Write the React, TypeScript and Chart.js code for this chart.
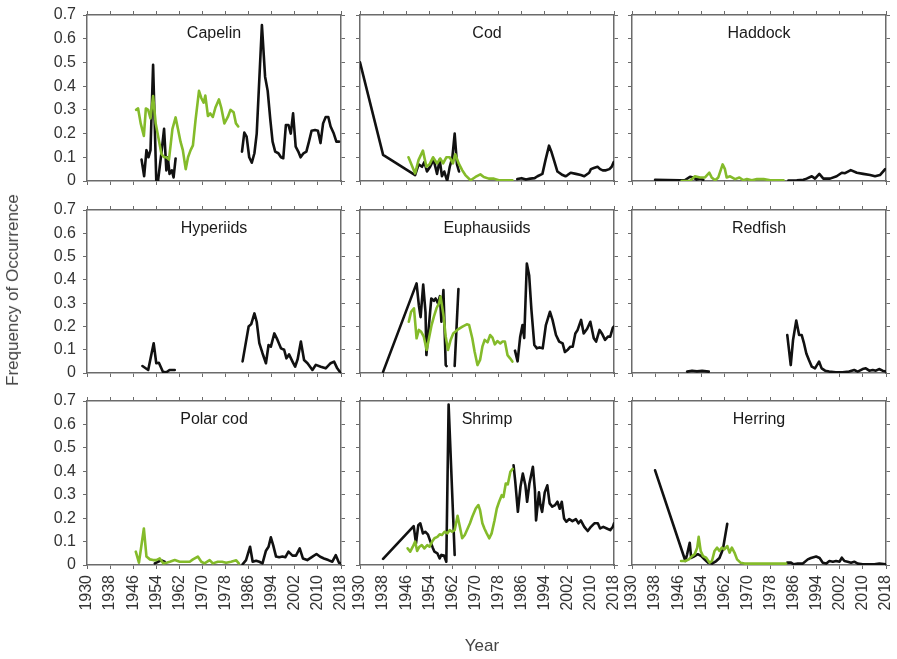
import React, { useEffect, useRef } from 'react';
import { Chart, registerables } from 'chart.js';
Chart.register(...registerables);

type P = [number, number | null];

const xTicks = [1930, 1938, 1946, 1954, 1962, 1970, 1978, 1986, 1994, 2002, 2010, 2018];
const yTicks = [0, 0.1, 0.2, 0.3, 0.4, 0.5, 0.6, 0.7];
const yTickLabels = ['0', '0.1', '0.2', '0.3', '0.4', '0.5', '0.6', '0.7'];
const panelTitles = ['Capelin', 'Cod', 'Haddock', 'Hyperiids', 'Euphausiids', 'Redfish', 'Polar cod', 'Shrimp', 'Herring'];

const capelinBlack: P[] = [[1948.9,.09],[1949.8,.02],[1950.6,.13],[1951.3,.10],[1952,.13],[1952.9,.49],[1954,0],[1954.6,0],[1955.8,.12],[1956.7,.22],[1957.5,.045],[1958,.10],[1958.6,.03],[1959.4,.045],[1960,.015],[1960.7,.095],[1970,null],
  [1983.7,.124],[1984.5,.204],[1985.3,.187],[1986.2,.10],[1987.1,.077],[1988,.117],[1988.8,.2],[1990.6,.658],[1991.7,.44],[1992.6,.38],[1993.5,.26],[1994.3,.166],[1995.2,.124],[1996.3,.117],[1997.2,.10],[1998,.096],[1998.9,.236],[1999.8,.236],[2000.6,.20],[2001.4,.285],[2002.3,.145],[2003.2,.124],[2004,.10],[2005,.117],[2006,.124],[2006.9,.166],[2007.8,.212],[2009,.215],[2010,.212],[2010.9,.16],[2011.8,.243],[2012.7,.27],[2013.6,.27],[2014.4,.23],[2015.5,.20],[2016.4,.166],[2017.3,.166]];
const capelinGreen: P[] = [[1947,.30],[1947.7,.306],[1948.6,.243],[1949.7,.19],[1950.4,.306],[1951.2,.30],[1952,.264],[1952.9,.358],[1953.8,.243],[1955,.166],[1955.8,.114],[1956.7,.10],[1957.5,.10],[1958.4,.09],[1959.6,.22],[1960.7,.268],[1961.5,.22],[1962.4,.166],[1963.2,.13],[1964.2,.05],[1965,.10],[1965.9,.13],[1966.7,.15],[1967.6,.257],[1968.8,.38],[1969.6,.35],[1970.4,.33],[1971,.36],[1971.9,.274],[1972.7,.285],[1973.6,.27],[1974.5,.31],[1975.7,.344],[1976.5,.31],[1977.6,.243],[1978.8,.27],[1979.7,.30],[1980.8,.29],[1981.6,.243],[1982.4,.23]];

const codBlack: P[] = [[1930,.50],[1938,.11],[1949.1,.025],[1950.3,.07],[1951.5,.06],[1952.3,.08],[1953.2,.04],[1954.3,.06],[1955.5,.09],[1956.7,.03],[1957.6,.09],[1958.4,.02],[1959.2,.04],[1960.2,0],[1961.1,.06],[1962,.10],[1962.8,.20],[1963.6,.07],[1964.3,.04],[1975,null],
  [1984.5,.008],[1986,.012],[1987.5,.006],[1989,.01],[1990.5,.012],[1991.5,.02],[1993.2,.03],[1994.3,.09],[1995.5,.149],[1996.4,.12],[1997.2,.088],[1998.4,.04],[2000.2,.025],[2001.2,.02],[2001.9,.025],[2003,.035],[2004.8,.03],[2006.5,.025],[2007.7,.02],[2009.4,.035],[2010,.05],[2011,.055],[2012.3,.06],[2013.2,.05],[2014.1,.045],[2015.2,.045],[2016.4,.05],[2017.2,.06],[2017.9,.08]];
const codGreen: P[] = [[1946.8,.10],[1949.1,.032],[1950.3,.089],[1951.8,.128],[1953,.06],[1954.1,.07],[1955.3,.10],[1956.7,.074],[1957.8,.095],[1958.8,.074],[1959.9,.10],[1961.1,.10],[1962.2,.074],[1963,.113],[1964.2,.074],[1965.4,.046],[1966.5,.025],[1968.3,.003],[1970,.017],[1971.7,.028],[1972.9,.017],[1974.6,.01],[1976.4,.01],[1978.1,.003],[1982.8,.003]];

const haddockBlack: P[] = [[1938,.005],[1946.6,.003],[1948.4,.004],[1950.1,.018],[1951.2,.015],[1952.4,.006],[1953.6,.01],[1954.7,.005],[1970,null],
  [1984.2,.002],[1987.1,.003],[1989.4,.005],[1990.5,.01],[1992.3,.02],[1993.4,.01],[1994.9,.03],[1996.3,.01],[1998.6,.01],[2000.9,.02],[2002.7,.035],[2003.8,.033],[2005.8,.046],[2007.9,.035],[2010.1,.03],[2012.5,.025],[2014.2,.02],[2015.9,.025],[2017.7,.05]];
const haddockGreen: P[] = [[1947.2,0],[1950.1,0],[1951.8,.02],[1953.6,.015],[1955.3,.015],[1956.8,.035],[1957.6,.015],[1958.8,.003],[1959.9,.015],[1961.4,.07],[1962.2,.05],[1962.8,.015],[1964,.02],[1965.7,.008],[1967.2,.015],[1968.6,.003],[1969.8,.008],[1971.5,.003],[1973.3,.008],[1975.6,.008],[1977.9,.003],[1980.2,.003],[1982.5,.003]];

const hyperiidsBlack: P[] = [[1949.2,.03],[1951.2,.013],[1953.1,.128],[1954,.042],[1954.9,.044],[1956.3,.005],[1957.5,.003],[1958.6,.013],[1960.4,.013],[1970,null],
  [1983.9,.05],[1986,.20],[1986.9,.21],[1988,.256],[1988.8,.22],[1989.7,.128],[1990.8,.085],[1992,.042],[1992.9,.12],[1993.7,.113],[1994.9,.17],[1996,.142],[1997.2,.106],[1998.3,.10],[1999.1,.063],[2000,.08],[2001.2,.049],[2002.1,.027],[2003,.06],[2004.1,.135],[2005.2,.056],[2006.4,.042],[2008.1,.013],[2009.3,.035],[2011,.027],[2012.7,.02],[2014.4,.042],[2015.6,.049],[2016.7,.02],[2017.9,0]];
const hyperiidsGreen: P[] = [];

const euphBlack: P[] = [[1938,.005],[1949.6,.385],[1950.4,.29],[1951,.24],[1951.9,.38],[1952.7,.26],[1953,.077],[1954.7,.32],[1955.6,.31],[1956.2,.32],[1957,.30],[1957.7,.33],[1958.2,.22],[1958.9,.356],[1959.7,.034],[1960,.03],[1961,null],[1962.8,.03],[1964.1,.36],[1970,null],
  [1983.7,.096],[1984.6,.05],[1985.5,.156],[1986.3,.206],[1986.9,.15],[1987.8,.47],[1988.6,.42],[1989.4,.27],[1990.4,.12],[1991.3,.106],[1992.2,.11],[1993.3,.106],[1994.4,.206],[1995.8,.263],[1996.7,.228],[1997.9,.163],[1999,.135],[2000.2,.127],[2001,.09],[2002,.10],[2002.9,.113],[2003.7,.113],[2004.6,.17],[2005.4,.185],[2006.6,.228],[2007.5,.17],[2008.7,.19],[2009.8,.22],[2011,.149],[2011.8,.135],[2013,.185],[2013.8,.17],[2014.9,.142],[2015.9,.156],[2016.7,.156],[2017.6,.195],[2018,.2]];
const euphGreen: P[] = [[1946.9,.22],[1947.7,.263],[1948.7,.278],[1949.6,.149],[1950.4,.185],[1951.2,.177],[1952.1,.156],[1953.1,.099],[1953.9,.149],[1954.8,.206],[1955.6,.242],[1956.5,.278],[1957.4,.30],[1957.9,.328],[1958.9,.25],[1959.7,.156],[1960.5,.099],[1961.4,.142],[1962.3,.17],[1963.7,.185],[1965.5,.199],[1967,.209],[1967.8,.206],[1968.9,.149],[1969.7,.092],[1970.7,.034],[1971.6,.056],[1972.4,.113],[1973.2,.142],[1974.2,.132],[1975.1,.163],[1975.9,.152],[1976.7,.123],[1977.6,.137],[1978.6,.127],[1979.4,.135],[1980.2,.135],[1981.1,.077],[1982,.063],[1982.8,.049]];

const redfishBlack: P[] = [[1949.1,.006],[1950.8,.01],[1952.5,.007],[1954.3,.009],[1956.6,.006],[1970,null],
  [1983.8,.163],[1985,.034],[1985.8,.142],[1986.9,.225],[1987.9,.163],[1988.8,.163],[1989.6,.127],[1990.4,.084],[1991.3,.056],[1992.3,.027],[1993.4,.02],[1994.8,.049],[1995.7,.02],[1996.9,.01],[1998.3,.006],[2000.6,.003],[2002.9,.003],[2005.2,.006],[2007,.013],[2008.2,.006],[2009.9,.017],[2011,.02],[2012.2,.01],[2013.4,.013],[2014.5,.01],[2015.6,.017],[2016.8,.01],[2018,.006]];
const redfishGreen: P[] = [];

const polarBlack: P[] = [[1953.5,.007],[1954.6,.014],[1955.8,.02],[1956.9,.014],[1970,null],
  [1983.9,.003],[1985.1,.021],[1986.5,.078],[1987.4,.014],[1988.6,.018],[1989.7,.014],[1990.8,.007],[1992,.061],[1992.9,.078],[1993.7,.118],[1994.5,.085],[1995.5,.036],[1996.6,.033],[1997.7,.036],[1998.7,.033],[1999.8,.057],[2001.2,.04],[2002.4,.04],[2003.7,.071],[2004.8,.028],[2006.3,.021],[2008,.035],[2009.5,.047],[2010.8,.035],[2012.1,.028],[2013.6,.021],[2015,.014],[2016.2,.042],[2017.3,.01],[2018,.007]];
const polarGreen: P[] = [[1946.9,.057],[1948,.01],[1949.7,.156],[1950.6,.036],[1951.8,.024],[1952.9,.021],[1954,.021],[1955.2,.028],[1956.4,.007],[1957.5,.01],[1958.7,.014],[1960.4,.021],[1962.1,.014],[1963.8,.014],[1965.6,.014],[1966.7,.024],[1968.4,.036],[1969.6,.014],[1970.7,.007],[1972.5,.021],[1973.6,.007],[1975.3,.014],[1976.8,.014],[1978.2,.01],[1979.9,.014],[1981.7,.02],[1982.6,.007]];

const shrimpBlack: P[] = [[1938,.026],[1948.6,.166],[1949.4,.092],[1950.2,.17],[1950.9,.178],[1951.8,.135],[1952.6,.142],[1953.5,.131],[1954.4,.10],[1955.2,.074],[1955.8,.057],[1956.8,.05],[1957.6,.028],[1958.2,.043],[1959.1,.04],[1959.9,.014],[1960.7,.685],[1962.8,.043],[1975,null],
  [1983.2,.426],[1983.8,.355],[1984.7,.227],[1985.6,.334],[1986.4,.39],[1987.3,.34],[1987.9,.27],[1988.7,.348],[1989.9,.419],[1990.6,.32],[1991,.19],[1992,.31],[1992.5,.256],[1993.1,.227],[1994,.31],[1994.9,.34],[1995.7,.263],[1996.6,.249],[1997.6,.256],[1998.4,.27],[1999.2,.24],[1999.9,.27],[2000.7,.199],[2001.5,.185],[2002.5,.196],[2003.6,.187],[2004.8,.196],[2005.7,.178],[2006.5,.19],[2007.7,.163],[2008.9,.145],[2010,.163],[2011.2,.178],[2012.4,.178],[2013.2,.156],[2014.3,.163],[2015.5,.156],[2016.7,.149],[2017.6,.163],[2018,.178]];
const shrimpGreen: P[] = [[1946.5,.071],[1947.4,.057],[1948.3,.078],[1949.1,.10],[1949.8,.06],[1950.6,.078],[1951.4,.085],[1952.3,.071],[1953.3,.085],[1954.1,.078],[1955,.10],[1955.8,.114],[1956.8,.12],[1957.6,.131],[1958.4,.128],[1959.3,.142],[1960.3,.135],[1961.1,.149],[1961.9,.142],[1962.8,.149],[1963.8,.21],[1964.6,.163],[1965.4,.114],[1966.3,.128],[1967.3,.156],[1968.1,.178],[1968.9,.206],[1970.1,.241],[1971,.256],[1971.6,.234],[1972.4,.178],[1973.1,.156],[1973.9,.135],[1974.8,.114],[1975.6,.135],[1976.6,.19],[1977.4,.241],[1978.2,.27],[1979.1,.298],[1979.7,.29],[1980.5,.348],[1981.2,.344],[1982.1,.398],[1982.9,.41]];

const herringBlack: P[] = [[1938,.404],[1948.5,.017],[1949.1,.046],[1950,.095],[1950.5,.03],[1951.4,.036],[1952.8,.046],[1954,.038],[1955.1,.024],[1956.3,.01],[1957.7,.006],[1959.2,.017],[1960.3,.03],[1961.5,.067],[1963,.176],[1975,null],
  [1983.8,.01],[1985.1,.01],[1986,.003],[1987.4,.006],[1989.2,.006],[1990.9,.024],[1992,.03],[1993.8,.036],[1995,.03],[1996.1,.01],[1997.3,.006],[1998.4,.017],[1999.6,.014],[2000.7,.017],[2001.9,.014],[2002.7,.031],[2003.6,.017],[2004.7,.014],[2005.9,.01],[2007,.014],[2008.2,.006],[2009.9,.003],[2011.7,.003],[2014,.003],[2015.7,.006],[2018,.003]];
const herringGreen: P[] = [[1947,.017],[1948.5,.017],[1949.7,.024],[1950.8,.038],[1951.7,.046],[1952.6,.074],[1953.1,.12],[1953.8,.06],[1954.6,.038],[1955.7,.031],[1956.9,.01],[1957.7,.017],[1958.6,.06],[1959.5,.074],[1960.3,.06],[1961.1,.074],[1962,.067],[1963,.081],[1963.8,.053],[1964.6,.074],[1965.5,.053],[1966.4,.024],[1967.6,.01],[1969,.006],[1972,.006],[1975,.006],[1978,.006],[1981,.006],[1983.4,.006]];

const blackSeries = [capelinBlack, codBlack, haddockBlack, hyperiidsBlack, euphBlack, redfishBlack, polarBlack, shrimpBlack, herringBlack];
const greenSeries = [capelinGreen, codGreen, haddockGreen, hyperiidsGreen, euphGreen, redfishGreen, polarGreen, shrimpGreen, herringGreen];

const FONT = '"Liberation Sans", Arial, Helvetica, sans-serif';
const COL_L = [87, 360, 632];
const PLOT_W = 254;
const ROW_T = [15, 210, 401];
const ROW_H = [166, 163, 164];
const BLACK = '#111111';
const GREEN = '#84bb2a';
const AXIS = '#6b6b6b';

function Panel({ index }: { index: number }) {
  const ref = useRef<HTMLCanvasElement | null>(null);
  const col = index % 3;
  const row = Math.floor(index / 3);
  const padL = col === 0 ? 80 : 12;
  const padR = 12;
  const padT = 12;
  const padB = row === 2 ? 60 : 10;
  const left = COL_L[col] - padL;
  const top = ROW_T[row] - padT;
  const width = PLOT_W + padL + padR;
  const height = ROW_H[row] + padT + padB;

  useEffect(() => {
    if (!ref.current) return;
    const title = panelTitles[index];
    const titlePlugin = {
      id: 'panelTitle' + index,
      afterDatasetsDraw(chart: any) {
        const { ctx, chartArea } = chart;
        ctx.save();
        ctx.font = '16px ' + FONT;
        ctx.fillStyle = '#1a1a1a';
        ctx.textAlign = 'center';
        ctx.textBaseline = 'alphabetic';
        ctx.fillText(title, (chartArea.left + chartArea.right) / 2, chartArea.top + 23);
        ctx.restore();
      },
    };
    const grid = { display: true, drawOnChartArea: false, drawTicks: true, tickLength: 4, color: AXIS, lineWidth: 1 };
    const border = { display: true, color: AXIS, width: 1.5 };
    const setX = (s: any) => { s.ticks = xTicks.map((v) => ({ value: v })); };
    const setY = (s: any) => { s.ticks = yTicks.map((v) => ({ value: v })); };
    const fix = (size: 'w' | 'h', n: number) => (s: any) => {
      if (size === 'w') s.width = n; else s.height = n;
      s.paddingLeft = 0; s.paddingRight = 0; s.paddingTop = 0; s.paddingBottom = 0;
    };
    const datasets: any[] = [];
    const g = greenSeries[index];
    if (g.length) datasets.push({ data: g.map(([x, y]) => ({ x, y })), borderColor: GREEN, borderWidth: 2.6, order: 0 });
    datasets.push({ data: blackSeries[index].map(([x, y]) => ({ x, y })), borderColor: BLACK, borderWidth: 2.6, order: 1 });
    const chart = new Chart(ref.current, {
      type: 'line',
      data: { datasets },
      plugins: [titlePlugin],
      options: {
        responsive: false,
        animation: false,
        maintainAspectRatio: false,
        layout: { padding: 0 },
        spanGaps: false,
        elements: { point: { radius: 0 }, line: { tension: 0, borderJoinStyle: 'round', borderCapStyle: 'round', fill: false } },
        plugins: { legend: { display: false }, tooltip: { enabled: false }, title: { display: false } },
        scales: {
          x: {
            type: 'linear', position: 'bottom', min: 1930, max: 2018,
            afterBuildTicks: setX,
            ticks: { display: row === 2, autoSkip: false, minRotation: 90, maxRotation: 90, padding: 6, color: '#333', font: { family: FONT, size: 16 }, callback: (v: any) => String(v) },
            grid, border,
            afterFit: fix('h', padB),
          },
          xTop: {
            type: 'linear', position: 'top', min: 1930, max: 2018,
            afterBuildTicks: setX,
            ticks: { display: false },
            grid, border,
            afterFit: fix('h', padT),
          },
          y: {
            type: 'linear', position: 'left', min: 0, max: 0.7,
            afterBuildTicks: setY,
            ticks: { display: col === 0, padding: 7, color: '#333', font: { family: FONT, size: 16 }, callback: (v: any) => yTickLabels[Math.round(Number(v) * 10)] },
            grid, border,
            afterFit: fix('w', padL),
          },
          yRight: {
            type: 'linear', position: 'right', min: 0, max: 0.7,
            afterBuildTicks: setY,
            ticks: { display: false },
            grid, border,
            afterFit: fix('w', padR),
          },
        },
      } as any,
    });
    return () => chart.destroy();
  }, [index]);

  return (
    <canvas
      ref={ref}
      width={width}
      height={height}
      style={{ position: 'absolute', left, top, width, height }}
    />
  );
}

export default function App() {
  return (
    <div style={{ position: 'absolute', left: 0, top: 0, width: 897, height: 659, background: '#fff', overflow: 'hidden', fontFamily: FONT }}>
      {panelTitles.map((_, i) => <Panel key={i} index={i} />)}
      <div style={{ position: 'absolute', left: 13, top: 290, transform: 'translate(-50%, -50%) rotate(-90deg)', fontSize: 17, color: '#444', whiteSpace: 'nowrap' }}>
        Frequency of Occurrence
      </div>
      <div style={{ position: 'absolute', left: 482, top: 646, transform: 'translate(-50%, -50%)', fontSize: 17, color: '#444', whiteSpace: 'nowrap' }}>
        Year
      </div>
    </div>
  );
}
